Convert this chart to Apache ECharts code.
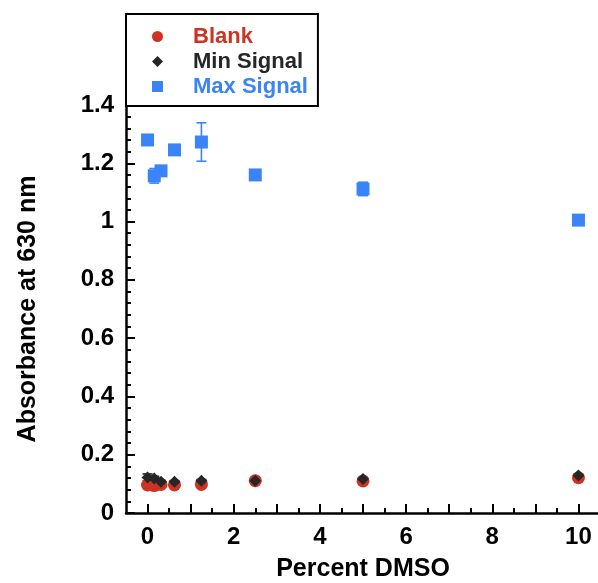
<!DOCTYPE html>
<html>
<head>
<meta charset="utf-8">
<script src="https://cdn.jsdelivr.net/npm/echarts@6/dist/echarts.min.js"></script>
<style>
  html, body { margin: 0; padding: 0; background: #fff; }
  #chart { width: 598px; height: 583px; }
</style>
</head>
<body>
<div id="chart"></div>
<script>
// Percent DMSO dilution series
const dmso = [0, 0.156, 0.3125, 0.625, 1.25, 2.5, 5, 10];

// Absorbance at 630 nm (mean) and error (±)
const blank = [0.096, 0.094, 0.098, 0.096, 0.098, 0.111, 0.110, 0.121];
const blankErr = [0.004, 0.004, 0.003, 0.003, 0.003, 0.003, 0.003, 0.003];
const minSignal = [0.122, 0.118, 0.107, 0.107, 0.111, 0.111, 0.117, 0.129];
const minErr = [0.012, 0.008, 0.004, 0.004, 0.004, 0.003, 0.003, 0.003];
const maxSignal = [1.280, 1.157, 1.174, 1.246, 1.273, 1.160, 1.112, 1.005];
const maxErr = [0.012, 0.025, 0.010, 0.010, 0.066, 0.008, 0.023, 0.005];

// Axis tick positions
const xLabelValues = [0, 2, 4, 6, 8, 10];
const xMajorTicks = [0, 1, 2, 3, 4, 5, 6, 7, 8, 9, 10];
const xHalfTicks = [0.5, 1.5, 2.5, 3.5, 4.5, 5.5, 6.5, 7.5, 8.5, 9.5, 10.5];

const RED = '#cc3322';
const BLACK = '#262626';
const BLUE = '#3a84f7';
const FONT = '"Liberation Sans", Arial, sans-serif';

function points(vals) {
  return dmso.map((x, i) => [x, vals[i]]);
}
function errRows(vals, errs) {
  return dmso.map((x, i) => [x, vals[i] - errs[i], vals[i] + errs[i]]);
}

function errorBars(name, vals, errs, color) {
  return {
    type: 'custom',
    name: name + ' error',
    data: errRows(vals, errs),
    z: 1,
    silent: true,
    renderItem: function (params, api) {
      const x = api.value(0);
      const lo = api.coord([x, api.value(1)]);
      const hi = api.coord([x, api.value(2)]);
      const half = 5;
      const style = { stroke: color, lineWidth: 1.6 };
      return {
        type: 'group',
        children: [
          { type: 'line', shape: { x1: lo[0], y1: lo[1], x2: hi[0], y2: hi[1] }, style: style },
          { type: 'line', shape: { x1: lo[0] - half, y1: lo[1], x2: lo[0] + half, y2: lo[1] }, style: style },
          { type: 'line', shape: { x1: hi[0] - half, y1: hi[1], x2: hi[0] + half, y2: hi[1] }, style: style }
        ]
      };
    }
  };
}

const chart = echarts.init(document.getElementById('chart'), null, { renderer: 'canvas' });

chart.setOption({
  backgroundColor: '#ffffff',
  animation: false,
  grid: {
    left: 126, right: -2, top: 105, bottom: 70,
    outerBoundsMode: 'none'
  },
  legend: {
    orient: 'vertical',
    left: 126,
    top: 14,
    align: 'left',
    padding: [11, 10, 8, 26],
    itemGap: 2,
    itemWidth: 11,
    itemHeight: 11,
    borderColor: '#000',
    borderWidth: 2,
    backgroundColor: '#fff',
    selectedMode: false,
    textStyle: {
      fontFamily: FONT, fontWeight: 'bold', fontSize: 22,
      padding: [0, 0, 0, 25], lineHeight: 23
    },
    data: [
      { name: 'Blank', icon: 'circle', textStyle: { color: RED } },
      { name: 'Min Signal', icon: 'diamond', textStyle: { color: BLACK } },
      { name: 'Max Signal', icon: 'rect', textStyle: { color: BLUE } }
    ]
  },
  xAxis: [
    {
      type: 'value',
      min: -0.5, max: 10.5,
      name: 'Percent DMSO',
      nameLocation: 'middle',
      nameGap: 44,
      nameTextStyle: { fontFamily: FONT, fontWeight: 'bold', fontSize: 25, color: '#000' },
      axisLine: { show: true, onZero: false, lineStyle: { color: '#000', width: 2.5 } },
      axisTick: { show: true, inside: true, length: 9, lineStyle: { color: '#000', width: 2 }, customValues: xMajorTicks },
      axisLabel: {
        show: true, margin: 12, customValues: xLabelValues,
        fontFamily: FONT, fontWeight: 'bold', fontSize: 24, color: '#000'
      },
      splitLine: { show: false }
    },
    {
      type: 'value',
      min: -0.5, max: 10.5,
      position: 'bottom',
      axisLine: { show: false, onZero: false },
      axisTick: { show: true, inside: true, length: 5, lineStyle: { color: '#000', width: 2 }, customValues: xHalfTicks },
      axisLabel: { show: false },
      splitLine: { show: false }
    }
  ],
  yAxis: {
    type: 'value',
    min: 0, max: 1.4, interval: 0.2,
    name: 'Absorbance at 630 nm',
    nameLocation: 'middle',
    nameGap: 85,
    nameTextStyle: { fontFamily: FONT, fontWeight: 'bold', fontSize: 25, color: '#000' },
    axisLine: { show: true, onZero: false, lineStyle: { color: '#000', width: 2.5 } },
    axisTick: { show: true, inside: true, length: 9, lineStyle: { color: '#000', width: 2 } },
    minorTick: { show: true, splitNumber: 5, length: 5, lineStyle: { color: '#000', width: 2 } },
    axisLabel: {
      margin: 12,
      fontFamily: FONT, fontWeight: 'bold', fontSize: 24, color: '#000'
    },
    splitLine: { show: false },
    minorSplitLine: { show: false }
  },
  series: [
    errorBars('Blank', blank, blankErr, RED),
    {
      type: 'scatter', name: 'Blank', data: points(blank),
      symbol: 'circle', symbolSize: 13, z: 2,
      itemStyle: { color: RED, opacity: 1 }
    },
    errorBars('Min Signal', minSignal, minErr, BLACK),
    {
      type: 'scatter', name: 'Min Signal', data: points(minSignal),
      symbol: 'diamond', symbolSize: 12, z: 3,
      itemStyle: { color: BLACK, opacity: 1 }
    },
    errorBars('Max Signal', maxSignal, maxErr, BLUE),
    {
      type: 'scatter', name: 'Max Signal', data: points(maxSignal),
      symbol: 'rect', symbolSize: 13, z: 4,
      itemStyle: { color: BLUE, opacity: 1 }
    }
  ]
});
</script>
</body>
</html>
